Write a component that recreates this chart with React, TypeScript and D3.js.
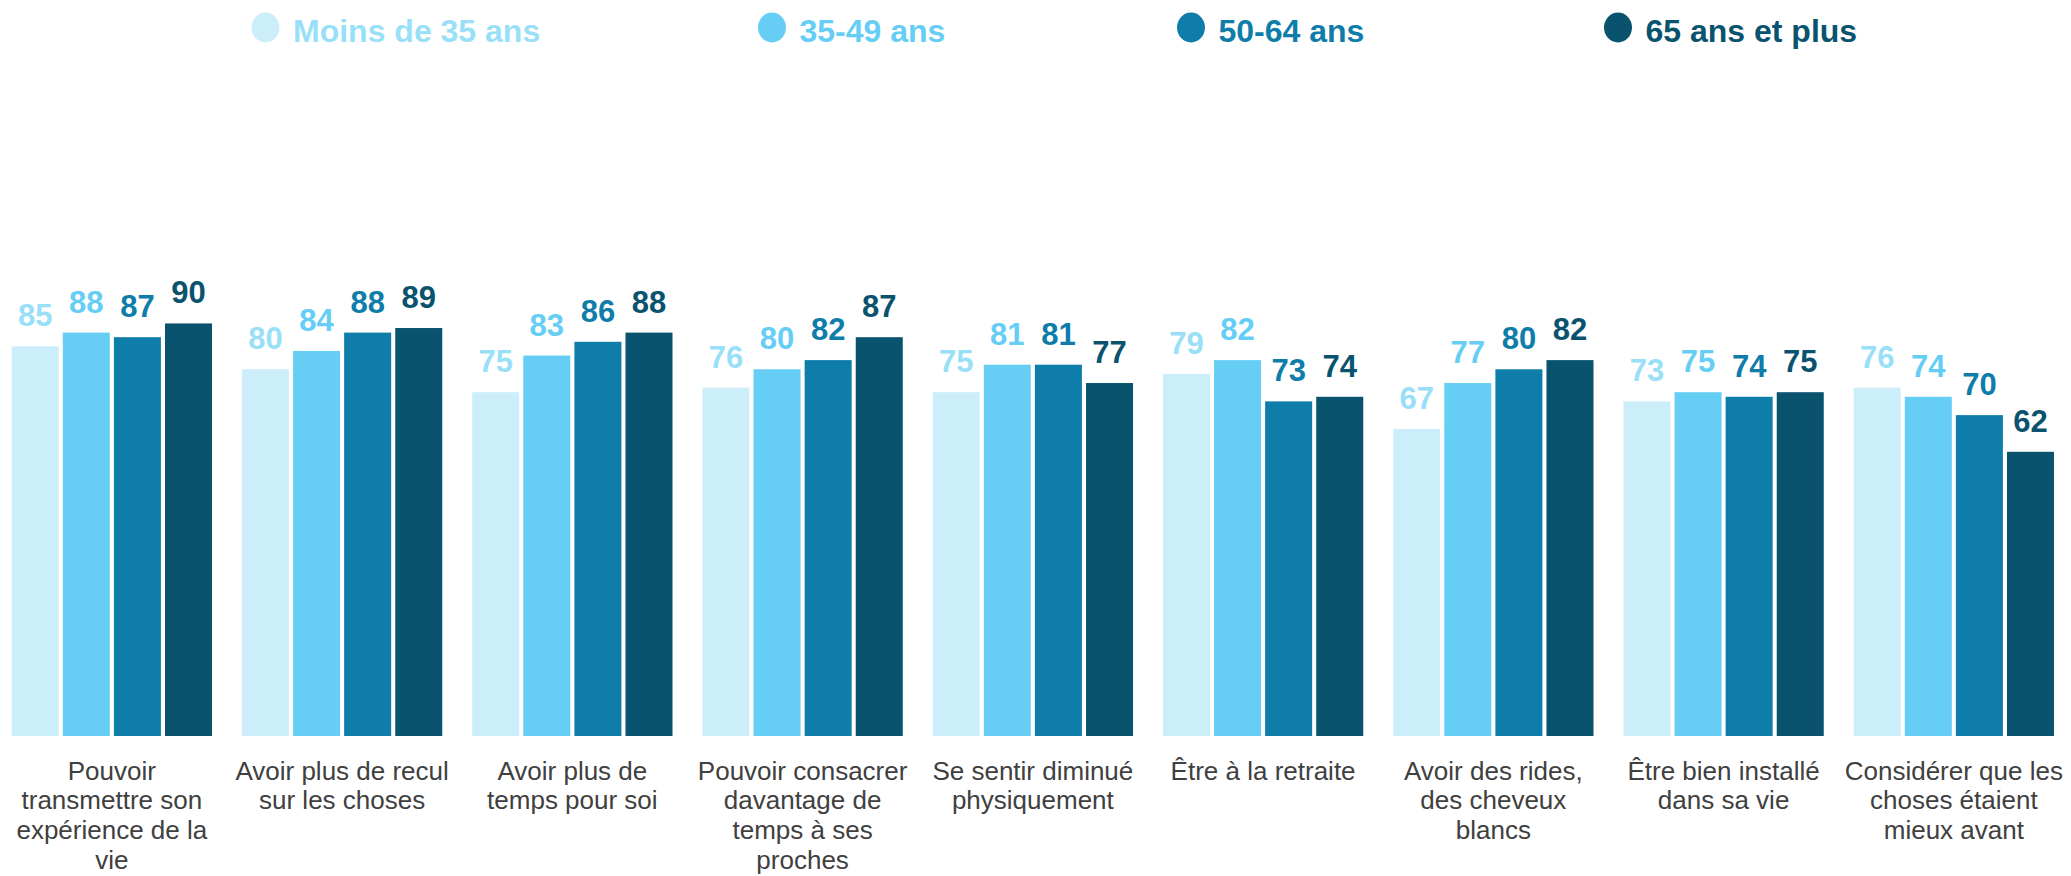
import React from "react";
import * as d3 from "d3";

const categories: string[][] = [
  ["Pouvoir", "transmettre son", "expérience de la", "vie"],
  ["Avoir plus de recul", "sur les choses"],
  ["Avoir plus de", "temps pour soi"],
  ["Pouvoir consacrer", "davantage de", "temps à ses", "proches"],
  ["Se sentir diminué", "physiquement"],
  ["Être à la retraite"],
  ["Avoir des rides,", "des cheveux", "blancs"],
  ["Être bien installé", "dans sa vie"],
  ["Considérer que les", "choses étaient", "mieux avant"],
];

const seriesNames = ["Moins de 35 ans", "35-49 ans", "50-64 ans", "65 ans et plus"];

const moins35 = [85, 80, 75, 76, 75, 79, 67, 73, 76];
const de35a49 = [88, 84, 83, 80, 81, 82, 77, 75, 74];
const de50a64 = [87, 88, 86, 82, 81, 73, 80, 74, 70];
const plus65 = [90, 89, 88, 87, 77, 74, 82, 75, 62];

const seriesValues = [moins35, de35a49, de50a64, plus65];

const barColors = ["#CCEEFA", "#66CEF5", "#0E7DA9", "#0A536F"];
const labelColors = ["#99DFF8", "#66CEF5", "#0E7DA9", "#0A536F"];

const W = 2071;
const H = 876;
const FONT = "'Liberation Sans', Arial, Helvetica, sans-serif";
const legendX = [265.5, 772, 1191, 1618];

export default function App() {
  const x0 = d3
    .scaleBand<number>()
    .domain(d3.range(categories.length))
    .range([11.7, 2054])
    .paddingInner(0.13)
    .paddingOuter(0);
  const x1 = d3
    .scaleBand<number>()
    .domain(d3.range(seriesNames.length))
    .range([0, x0.bandwidth()])
    .paddingInner(0.08);
  const y = d3.scaleLinear().domain([0, 100]).range([736, 277.6]);

  return (
    <svg
      width={W}
      height={H}
      style={{ position: "absolute", left: 0, top: 0, background: "#fff" }}
      fontFamily={FONT}
    >
      {/* legend */}
      {seriesNames.map((name, i) => (
        <g key={name}>
          <ellipse cx={legendX[i]} cy={27.5} rx={14} ry={15} fill={barColors[i]} />
          <text
            x={legendX[i] + 27.5}
            y={42}
            fontSize={32}
            fontWeight="bold"
            fill={labelColors[i]}
          >
            {name}
          </text>
        </g>
      ))}

      {/* bars */}
      {categories.map((cat, ci) => (
        <g key={ci} transform={`translate(${x0(ci)},0)`}>
          {seriesValues.map((vals, si) => {
            const v = vals[ci];
            const bx = x1(si) as number;
            return (
              <g key={si}>
                <rect
                  x={bx}
                  y={y(v)}
                  width={x1.bandwidth()}
                  height={y(0) - y(v)}
                  fill={barColors[si]}
                />
                <text
                  x={bx + x1.bandwidth() / 2}
                  y={y(v) - 20}
                  textAnchor="middle"
                  fontSize={31}
                  fontWeight="bold"
                  fill={labelColors[si]}
                >
                  {v}
                </text>
              </g>
            );
          })}
          <text
            x={x0.bandwidth() / 2}
            y={779.5}
            textAnchor="middle"
            fontSize={26}
            fill="#404040"
          >
            {cat.map((line, li) => (
              <tspan key={li} x={x0.bandwidth() / 2} dy={li === 0 ? 0 : 29.9}>
                {line}
              </tspan>
            ))}
          </text>
        </g>
      ))}
    </svg>
  );
}
